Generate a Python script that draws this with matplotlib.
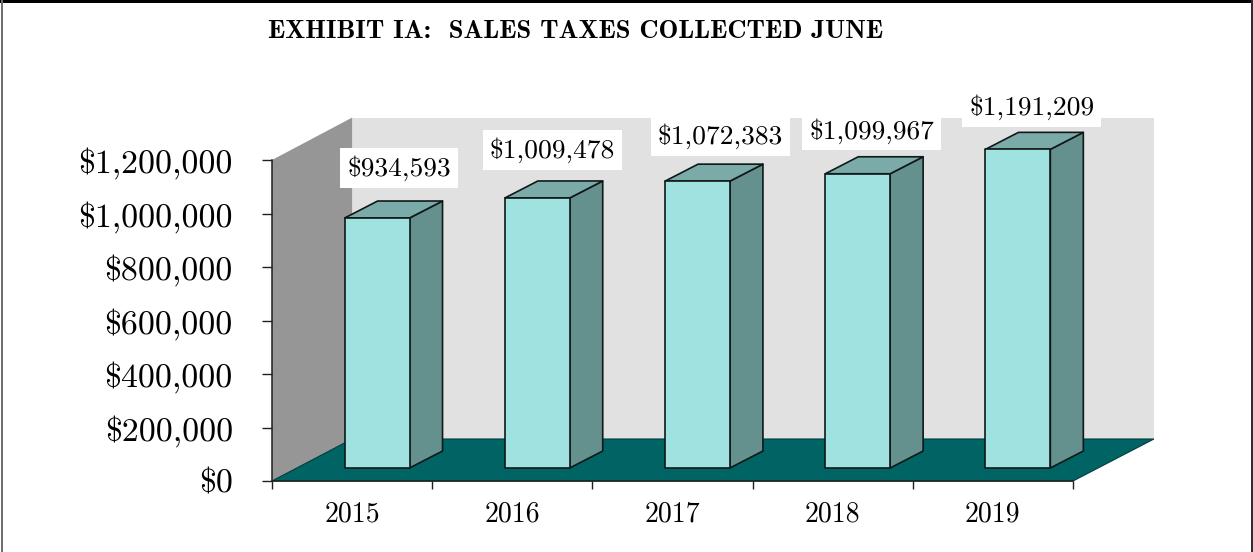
"""
Exhibit IA: sales taxes collected in June, drawn as a fake 3D column chart.
"""

import matplotlib
matplotlib.use('Agg')
import matplotlib.pyplot as plt
from matplotlib.patches import Rectangle
from matplotlib.ticker import FuncFormatter

years = ['2015', '2016', '2017', '2018', '2019']
sales_tax = [934593, 1009478, 1072383, 1099967, 1191209]
y_ticks = [0, 200000, 400000, 600000, 800000, 1000000, 1200000]
title = 'EXHIBIT IA:  SALES TAXES COLLECTED JUNE'

# Depth of the 3D box and of the columns, in data units
BOX_DX, BOX_DY = 0.50, 157000
BAR_X0, BAR_Y0 = 0.156, 48600
BAR_DX, BAR_DY = 0.206, 63500
BAR_WIDTH = 0.405

# Hand-placed data labels: pixels away from the top centre of each column
label_shift = [(22, 50), (15, 48), (23, 45), (14, 43), (14, 42)]

W, H = 1253, 552
fig = plt.figure(figsize=(W / 100, H / 100), dpi=100, facecolor='white')
ax = fig.add_axes([272 / W, 1 - 481 / H, 801 / W, 321 / H])
ax.set_xlim(0, len(years))
ax.set_ylim(0, y_ticks[-1])
ax.patch.set_visible(False)

top = y_ticks[-1]
n = len(years)

# Back wall, side wall and floor
ax.fill([BOX_DX, n + BOX_DX + 0.005, n + BOX_DX + 0.005, BOX_DX],
        [BOX_DY, BOX_DY, top + BOX_DY + 1500, top + BOX_DY + 1500],
        color='#e1e1e1', lw=0, clip_on=False, zorder=1)
ax.fill([0, BOX_DX, BOX_DX, 0], [0, BOX_DY, top + BOX_DY + 1500, top],
        color='#969696', lw=0, clip_on=False, zorder=1)
ax.fill([0, n, n + BOX_DX + 0.005, BOX_DX], [0, 0, BOX_DY, BOX_DY],
        facecolor='#006464', edgecolor='#003c3c', lw=0.8, clip_on=False, zorder=2)

# Columns
edge = dict(edgecolor='#101818', lw=1.2, joinstyle='round', clip_on=False, zorder=3)
for i, value in enumerate(sales_tax):
    x0 = i + 0.5 - BAR_WIDTH / 2 + BAR_X0
    x1 = x0 + BAR_WIDTH
    y0 = BAR_Y0
    y1 = BAR_Y0 + value
    ax.fill([x1, x1 + BAR_DX, x1 + BAR_DX, x1],
            [y0, y0 + BAR_DY, y1 + BAR_DY, y1], facecolor='#64908e', **edge)
    ax.fill([x0, x1, x1 + BAR_DX, x0 + BAR_DX],
            [y1, y1, y1 + BAR_DY, y1 + BAR_DY], facecolor='#7aaba9', **edge)
    ax.fill([x0, x1, x1, x0], [y0, y0, y1, y1], facecolor='#a0e2e0', **edge)

    ax.annotate(f'${value:,}', xy=((x0 + x1) / 2, y1),
                xytext=label_shift[i], textcoords='offset pixels',
                ha='center', va='center', fontsize=19.8, family='cmr10',
                bbox=dict(boxstyle='square,pad=0.25', fc='white', ec='none'),
                zorder=5, annotation_clip=False)

# Axes
for side in ['top', 'right']:
    ax.spines[side].set_visible(False)
for side in ['left', 'bottom']:
    ax.spines[side].set_linewidth(1.1)
    ax.spines[side].set_color('#202020')
    ax.spines[side].set_zorder(4)

ax.set_yticks(y_ticks)
ax.yaxis.set_major_formatter(FuncFormatter(lambda v, pos: f'${v:,.0f}'))
ax.tick_params(axis='y', length=7.2, width=1, pad=21, labelsize=24.4, color='#202020')
for lab in ax.get_yticklabels():
    lab.set_family('cmr10')

ax.set_xticks(range(n + 1))
ax.set_xticklabels([])
ax.tick_params(axis='x', length=6, width=1, color='#202020')
for i, year in enumerate(years):
    ax.annotate(year, xy=(i + 0.5, 0), xytext=(0, -33), textcoords='offset pixels',
                ha='center', va='center', fontsize=20, family='cmr10',
                annotation_clip=False)

fig.text(268 / W, 1 - 31 / H, title, ha='left', va='center',
         fontsize=19.1, family='cmb10', color='black')

# Outer frame of the exhibit
fig.add_artist(Rectangle((0, 1 - 3 / H), 1, 3 / H, transform=fig.transFigure,
                         fc='black', ec='none'))
fig.add_artist(Rectangle((1 / W, 0), 2 / W, 1, transform=fig.transFigure,
                         fc='#707070', ec='none'))
fig.add_artist(Rectangle((1251 / W, 0), 2 / W, 1, transform=fig.transFigure,
                         fc='#303030', ec='none'))

fig.savefig('out.png', dpi=100)
